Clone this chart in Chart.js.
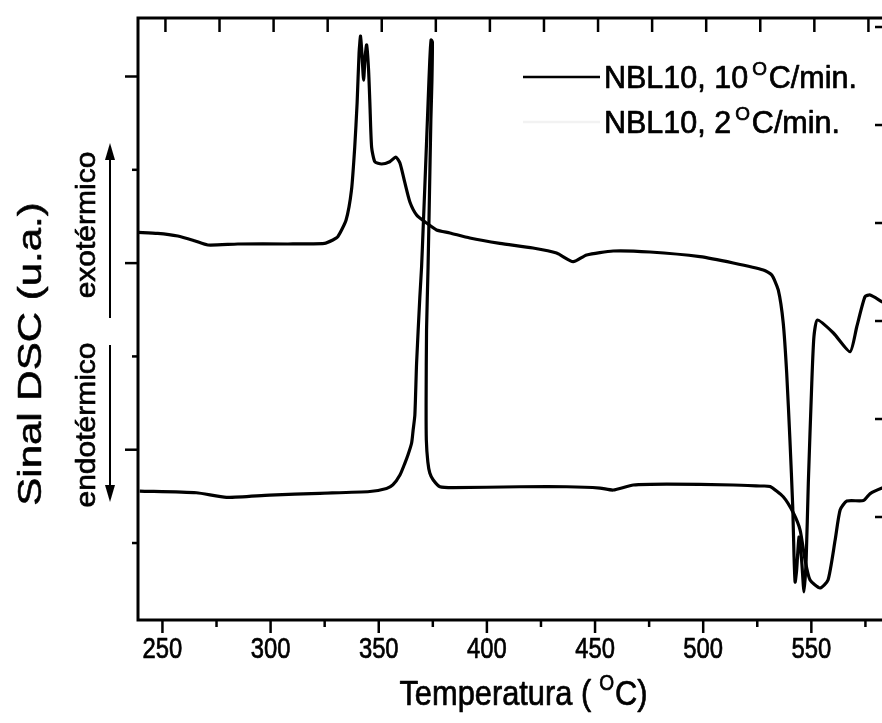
<!DOCTYPE html>
<html><head><meta charset="utf-8">
<script src="https://cdn.jsdelivr.net/npm/chart.js@4"></script>
<style>html,body{margin:0;padding:0;overflow:hidden;background:#fff;width:882px;height:723px}canvas{display:block}</style>
</head><body><canvas id="c" width="896" height="723"></canvas>
<script>
// ---- DATA ----
// Series heated at 2 °C/min (double exothermic peak ~342/344 °C)
const tempSlow = [238.6,247.8,257.1,264.8,271.0,284.8,308.0,324.9,328.8,331.1,334.9,337.4,338.9,340.0,340.9,341.6,342.3,343.0,343.7,344.4,345.3,345.9,346.7,348.2,351.3,355.1,357.9,359.8,362.1,364.4,367.5,372.1,376.7,382.9,392.1,406.0,421.3,432.2,439.9,446.1,458.4,475.4,498.5,513.9,527.8,531.7,534.7,537.0,538.6,540.1,541.4,542.0,542.5,543.2,544.3,545.5,546.6,547.6,548.6,550.2,551.2,552.8,560.2,567.9,571.0,574.8,577.2,582.7,585.9];
const dscSlow  = [3.330,3.319,3.290,3.240,3.194,3.205,3.205,3.212,3.248,3.283,3.462,3.783,4.244,4.716,5.252,5.434,5.212,4.962,5.212,5.338,5.070,4.716,4.244,4.087,4.062,4.087,4.137,4.073,3.859,3.655,3.516,3.430,3.355,3.323,3.269,3.212,3.162,3.108,3.015,3.087,3.130,3.119,3.069,3.001,2.926,2.872,2.712,2.358,1.822,1.104,0.386,-0.150,-0.418,-0.289,0.064,-0.182,-0.525,-0.182,0.643,1.715,2.211,2.390,2.251,2.050,2.318,2.640,2.658,2.586,2.551];
// Series heated at 10 °C/min (sharp exothermic peak ~374 °C)
const tempFast = [239.5,265.7,279.6,299.6,322.8,345.9,353.6,356.5,359.8,362.1,363.5,365.2,365.9,366.7,367.5,369.0,369.8,370.5,371.3,372.8,373.6,374.2,374.8,374.6,374.1,373.4,372.8,372.1,371.9,372.0,372.7,373.6,375.2,378.3,384.4,415.3,436.9,452.3,458.4,467.7,483.1,513.9,526.3,530.9,537.0,541.7,544.8,547.1,549.4,554.0,557.7,561.0,563.3,566.4,574.1,577.2,582.7,585.9];
const dscFast  = [0.557,0.539,0.490,0.514,0.533,0.552,0.584,0.622,0.729,0.857,0.943,1.072,1.211,1.372,1.929,2.637,2.958,3.355,3.816,4.716,5.177,5.391,5.370,4.962,4.534,3.676,2.958,2.283,1.533,1.104,0.868,0.750,0.675,0.603,0.593,0.603,0.603,0.589,0.568,0.622,0.632,0.622,0.611,0.606,0.496,0.322,0.139,-0.182,-0.397,-0.482,-0.397,0.032,0.354,0.450,0.455,0.530,0.590,0.610];
const seriesNames = ['NBL10, 10', 'NBL10, 2'];
const xTickValues = [250,275,300,325,350,375,400,425,450,475,500,525,550,575];
const xTickLabels = ['250','300','350','400','450','500','550'];
const leftTickValues = [0,1,2,3,4,5];
const rightTickValues = [-0.5,0,0.5,1,1.5,2,2.5,3,3.5,4,4.5,5];
const xTitle = 'Temperatura (';
const yTitle = 'Sinal DSC (u.a.)';
const exoLabel = 'exotérmico';
const endoLabel = 'endotérmico';

// ---- drawing helpers ----
const FONT = '"Liberation Sans", Arial, Helvetica, sans-serif';
function setFont(ctx, size){ ctx.font = size + 'px ' + FONT; }
function richWidth(ctx, parts, size, sx){
  let w = 0;
  for (const p of parts){ setFont(ctx, p.sup ? size*0.62 : size); w += ctx.measureText(p.t).width*sx + (p.gap||0); }
  return w;
}
function drawRich(ctx, parts, x, y, size, align, sx, sy){
  sy = sy || 1;
  const w = richWidth(ctx, parts, size, sx);
  let cx = align === 'center' ? x - w/2 : (align === 'right' ? x - w : x);
  ctx.textAlign = 'left'; ctx.textBaseline = 'alphabetic';
  for (const p of parts){
    const s = p.sup ? size*0.62 : size;
    setFont(ctx, s);
    ctx.save(); ctx.translate(cx, p.sup ? y - size*0.42*sy : y); ctx.scale(sx, sy);
    ctx.lineWidth = 0.7; ctx.lineJoin = 'round';
    ctx.fillText(p.t, 0, 0); ctx.strokeText(p.t, 0, 0); ctx.restore();
    cx += ctx.measureText(p.t).width*sx + (p.gap||0);
  }
}
function arrow(ctx, x, y0, y1){
  const dir = Math.sign(y1 - y0);
  ctx.beginPath(); ctx.moveTo(x, y0); ctx.lineTo(x, y1 - dir*12); ctx.lineWidth = 2; ctx.stroke();
  ctx.beginPath(); ctx.moveTo(x, y1); ctx.lineTo(x-5, y1 - dir*17); ctx.lineTo(x+5, y1 - dir*17); ctx.closePath(); ctx.fill();
}

const decor = {
  id: 'decor',
  afterDraw(chart){
    const ctx = chart.ctx, a = chart.chartArea;
    const xs = chart.scales.x, ys = chart.scales.y, y2 = chart.scales.y2;
    ctx.save();
    ctx.strokeStyle = '#000'; ctx.fillStyle = '#000'; ctx.lineCap = 'butt';
    // frame
    ctx.lineWidth = 3;
    ctx.strokeRect(a.left, a.top, a.right - a.left, a.bottom - a.top);
    // x ticks (bottom outward, top inward)
    ctx.lineWidth = 2.5;
    for (const v of xTickValues){
      const px = xs.getPixelForValue(v);
      const major = v % 50 === 0;
      ctx.beginPath(); ctx.moveTo(px, a.bottom); ctx.lineTo(px, a.bottom + (major ? 13 : 7)); ctx.stroke();
      ctx.beginPath(); ctx.moveTo(px + 3, a.top); ctx.lineTo(px + 3, a.top + 14); ctx.stroke();
    }
    // left ticks (outward)
    for (const v of leftTickValues){
      const py = ys.getPixelForValue(v);
      const major = v % 2 === 1;
      ctx.beginPath(); ctx.moveTo(a.left, py); ctx.lineTo(a.left - (major ? 13 : 6), py); ctx.stroke();
    }
    // right ticks (inward)
    for (const v of rightTickValues){
      const py = y2.getPixelForValue(v);
      const major = Number.isInteger(v);
      ctx.beginPath(); ctx.moveTo(a.right, py); ctx.lineTo(a.right - (major ? 14 : 7), py); ctx.stroke();
    }
    // x tick labels
    for (const lab of xTickLabels){
      const px = xs.getPixelForValue(Number(lab));
      drawRich(ctx, [{t: lab}], px, 658, 29, 'center', 0.82);
    }
    // x title
    drawRich(ctx, [{t: xTitle, gap: 8}, {t: 'O', sup: true, gap: 1}, {t: 'C)'}], (a.left + a.right)/2 + 10, 705, 35, 'center', 0.88);
    // y title & side labels (rotated)
    ctx.save(); ctx.translate(41, 354); ctx.rotate(-Math.PI/2);
    drawRich(ctx, [{t: yTitle}], 0, 0, 42, 'center', 1, 0.78);
    ctx.restore();
    ctx.save(); ctx.translate(95, 225); ctx.rotate(-Math.PI/2);
    drawRich(ctx, [{t: exoLabel}], 0, 0, 30, 'center', 1, 0.95);
    ctx.restore();
    ctx.save(); ctx.translate(95, 425); ctx.rotate(-Math.PI/2);
    drawRich(ctx, [{t: endoLabel}], 0, 0, 30, 'center', 1, 0.95);
    ctx.restore();
    // arrows
    arrow(ctx, 110, 318, 143);
    arrow(ctx, 110, 345, 502);
    // legend
    const ds = chart.data.datasets;
    const rows = [77, 122];
    ds.forEach((d, i) => {
      ctx.save();
      ctx.strokeStyle = d.legendLine; ctx.lineWidth = 2.5;
      ctx.beginPath(); ctx.moveTo(523, rows[i]); ctx.lineTo(600, rows[i]); ctx.stroke();
      ctx.restore();
      drawRich(ctx, [{t: d.label, gap: 4}, {t: 'O', sup: true, gap: 2}, {t: 'C/min.'}], 604, rows[i] + 11, 30.5, 'left', 1.0);
    });
    ctx.restore();
  }
};

const mk = (T, V) => T.map((t, i) => ({x: t, y: V[i]}));
new Chart(document.getElementById('c'), {
  type: 'line',
  data: {
    datasets: [
      {label: seriesNames[0], data: mk(tempFast, dscFast), borderColor: '#000', borderWidth: 3.2, pointRadius: 0, tension: 0.2, legendLine: '#000'},
      {label: seriesNames[1], data: mk(tempSlow, dscSlow), borderColor: '#000', borderWidth: 3.2, pointRadius: 0, tension: 0.2, legendLine: '#f2f2f2'}
    ]
  },
  options: {
    responsive: false, animation: false, devicePixelRatio: 1,
    layout: {padding: {left: 138, top: 18, right: 7, bottom: 103}},
    plugins: {legend: {display: false}, tooltip: {enabled: false}},
    scales: {
      x: {type: 'linear', min: 238.7, max: 585.9, display: false},
      y: {type: 'linear', min: -0.825, max: 5.627, display: false},
      y2: {type: 'linear', position: 'right', min: -1.051, max: 5.092, display: false}
    }
  },
  plugins: [decor]
});
</script>
</body></html>
